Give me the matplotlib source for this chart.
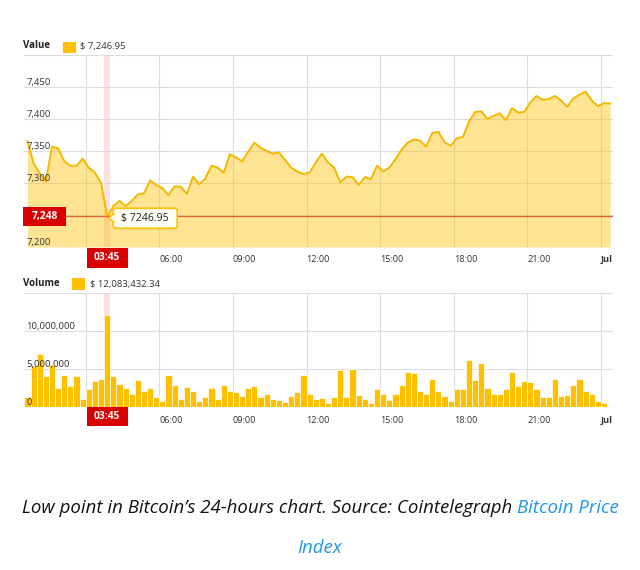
import matplotlib
matplotlib.use("Agg")
import matplotlib.pyplot as plt
import numpy as np
from matplotlib.patches import Rectangle, FancyBboxPatch, Polygon

# ---------------- data ----------------
start_hour = 0.5          # first 15-minute interval starts 00:30
step_hours = 0.25         # 15 minutes
low_index = 13            # 03:45 interval

price = [7365, 7331, 7315, 7302, 7357, 7354, 7334, 7327, 7327, 7338, 7324, 7316,
         7300, 7246.95, 7264, 7272, 7264, 7272, 7282, 7284, 7304, 7297, 7292, 7281,
         7295, 7294, 7283, 7310, 7298, 7307, 7327, 7324, 7316, 7345, 7340, 7334,
         7349, 7363, 7355, 7350, 7346, 7348, 7336, 7324, 7318, 7314, 7316, 7332,
         7346, 7332, 7324, 7301, 7310, 7309, 7297, 7309, 7306, 7327, 7318, 7324,
         7337, 7352, 7363, 7368, 7366, 7357, 7378, 7380, 7364, 7358, 7370, 7372,
         7396, 7411, 7412, 7400, 7405, 7409, 7398, 7417, 7410, 7411, 7426, 7436,
         7430, 7431, 7436, 7429, 7419, 7432, 7438, 7443, 7429, 7420, 7425, 7424]

volume_millions = [1.26, 5.3, 7.0, 4.0, 5.5, 2.4, 4.2, 2.7, 4.05, 1.0, 2.25, 3.4,
                   3.7, 12.083, 4.05, 3.0, 2.5, 1.6, 3.5, 2.1, 2.5, 1.26, 0.7, 4.2,
                   2.8, 0.95, 2.6, 2.1, 0.7, 1.2, 2.5, 1.0, 2.8, 2.1, 1.9, 1.4,
                   2.4, 2.7, 1.2, 1.6, 0.95, 0.8, 0.6, 1.4, 1.9, 4.2, 1.6, 0.95,
                   1.1, 0.45, 1.26, 4.8, 1.26, 5.0, 1.5, 0.95, 0.45, 2.35, 1.7, 0.8,
                   1.6, 2.9, 4.6, 4.4, 2.1, 1.6, 3.7, 2.0, 1.35, 0.7, 2.25, 2.35,
                   6.2, 3.5, 5.7, 2.4, 1.6, 1.6, 2.25, 4.55, 2.7, 3.4, 3.25, 2.25,
                   1.26, 1.26, 3.6, 1.4, 1.5, 2.8, 3.6, 2.1, 1.6, 0.7, 0.4, 0.1]

cursor_price = 7248
cursor_label = "7,248"
cursor_time_label = "03:45"
price_legend = "$ 7,246.95"
volume_legend = "$ 12,083,432.34"
tooltip_text = "$ 7246.95"

price_grid = [7200, 7250, 7300, 7350, 7400, 7450, 7500]
price_tick_labels = {7200: "7,200", 7300: "7,300", 7350: "7,350", 7400: "7,400", 7450: "7,450"}
volume_grid = [0, 5, 10, 15]
volume_tick_labels = {0: "0", 5: "5,000,000", 10: "10,000,000"}
hour_ticks = [3, 6, 9, 12, 15, 18, 21, 24]
# the 03:00 label is covered by the cursor box in the original
hour_labels = ["", "06:00", "09:00", "12:00", "15:00", "18:00", "21:00", "Jul"]

caption_black = "Low point in Bitcoin\u2019s 24-hours chart. Source: Cointelegraph"
caption_blue_1 = "Bitcoin Price"
caption_blue_2 = "Index"

# ---------------- style ----------------
FONT = ["Open Sans", "DejaVu Sans"]
plt.rcParams["font.family"] = FONT
GOLD = "#FFC000"
LINE = "#F5B800"
GRID = "#DCDCE4"
RED = "#D80000"
TXT = "#333333"
BLUE = "#1E96E6"

W, H = 640, 570
fig = plt.figure(figsize=(W / 100, H / 100), dpi=100)
fig.patch.set_facecolor("white")


def fx(x):
    return x / W


def fy(y):
    return 1 - y / H


x0_px, x1_px = 24.4, 613.2
ax1 = fig.add_axes([fx(x0_px), fy(247), (x1_px - x0_px) / W, 192 / H])
ax2 = fig.add_axes([fx(x0_px), fy(406.5), (x1_px - x0_px) / W, 113.5 / H])

n = len(price)
t_price = start_hour + step_hours * (np.arange(n) + 0.5)
t_bar = start_hour + step_hours * np.arange(len(volume_millions))
xmin, xmax = start_hour, start_hour + step_hours * len(volume_millions)

for ax in (ax1, ax2):
    ax.set_xlim(xmin, xmax)
    for s in ax.spines.values():
        s.set_visible(False)
    ax.set_xticks(hour_ticks)
    ax.set_xticklabels(hour_labels)
    ax.tick_params(axis="x", length=0, labelsize=6.6, labelcolor=TXT)
    ax.tick_params(axis="y", length=0, labelleft=False)
    for lab in ax.get_xticklabels():
        lab.set_ha("left")
        if lab.get_text() == "Jul":
            lab.set_fontweight("bold")
    ax.grid(True, color=GRID, lw=0.8)
    ax.set_axisbelow(True)
    ax.axvspan(start_hour + step_hours * low_index, start_hour + step_hours * (low_index + 1),
               color="#F7C9C9", alpha=0.55, lw=0, zorder=1)

ax1.tick_params(axis="x", pad=6.0)
ax2.tick_params(axis="x", pad=6.5)

# price panel
ax1.set_ylim(price_grid[0], price_grid[-1])
ax1.set_yticks(price_grid)
ax1.fill_between(t_price, price, price_grid[0], color=GOLD, alpha=0.42, lw=0, zorder=2)
ax1.plot(t_price, price, color=LINE, lw=1.4, zorder=3, solid_joinstyle="round")
ax1.axhline(cursor_price, color="#E8603C", lw=0.9, zorder=4)
for v, lab in price_tick_labels.items():
    ax1.annotate(lab, xy=(0, v), xycoords=("axes fraction", "data"), xytext=(1.2, 1.3),
                 textcoords="offset points", ha="left", va="baseline", fontsize=6.8,
                 color=TXT, zorder=5)

# volume panel
ax2.set_ylim(volume_grid[0], volume_grid[-1])
ax2.set_yticks(volume_grid)
ax2.bar(t_bar, volume_millions, width=step_hours, align="edge", color=GOLD,
        edgecolor="white", lw=0.5, zorder=3)
for v, lab in volume_tick_labels.items():
    ax2.annotate(lab, xy=(0, v), xycoords=("axes fraction", "data"), xytext=(1.2, 1.3),
                 textcoords="offset points", ha="left", va="baseline", fontsize=6.8,
                 color=TXT, zorder=5)

# headers / legends
fig.text(fx(23), fy(46), "Value", fontsize=7, fontweight="bold", color="#222", va="center")
fig.add_artist(Rectangle((fx(63), fy(52.5)), 13 / W, 11 / H, transform=fig.transFigure,
                         color=GOLD, lw=0))
fig.text(fx(80.5), fy(46), price_legend, fontsize=6.8, color=TXT, va="center")

fig.text(fx(23), fy(284), "Volume", fontsize=7, fontweight="bold", color="#222", va="center")
fig.add_artist(Rectangle((fx(72), fy(290)), 13 / W, 12 / H, transform=fig.transFigure,
                         color=GOLD, lw=0))
fig.text(fx(90), fy(284), volume_legend, fontsize=6.8, color=TXT, va="center")


# cursor boxes (positions derived from data through the axes transforms)
def data_to_px(ax, x, y):
    dx, dy = ax.transData.transform((x, y))
    return dx, H - dy


t_low = t_price[low_index]
cx, cy = data_to_px(ax1, t_low, cursor_price)

# y-axis cursor box
fig.add_artist(Rectangle((fx(23), fy(cy + 9.5)), 43 / W, 19 / H, transform=fig.transFigure,
                         color=RED, lw=0, zorder=10))
fig.text(fx(44.5), fy(cy), cursor_label, fontsize=7.4, fontweight="bold", color="white",
         ha="center", va="center", zorder=11)

# x-axis cursor boxes
for top_px in (248, 406.5):
    fig.add_artist(Rectangle((fx(cx - 20.5), fy(top_px + 19.5)), 41 / W, 19.5 / H,
                             transform=fig.transFigure, color=RED, lw=0, zorder=10))
    fig.text(fx(cx), fy(top_px + 9.8), cursor_time_label, fontsize=7.4, fontweight="bold",
             color="white", ha="center", va="center", zorder=11)

# tooltip
_, py = data_to_px(ax1, t_low, price[low_index])
bx0, bx1, by0, by1 = cx + 6, cx + 70, cy - 8, cy + 12
fig.add_artist(FancyBboxPatch((fx(bx0), fy(by1)), (bx1 - bx0) / W, (by1 - by0) / H,
                              boxstyle="round,pad=0,rounding_size=0.004",
                              transform=fig.transFigure, facecolor="#FFFEF6",
                              edgecolor=GOLD, lw=1.2, zorder=12))
fig.add_artist(Polygon([(fx(bx0 + 0.8), fy(py - 3)), (fx(cx + 1.5), fy(py + 1)),
                        (fx(bx0 + 0.8), fy(py + 5))], closed=True, transform=fig.transFigure,
                       facecolor="#FFFEF6", edgecolor=GOLD, lw=1.0, zorder=12))
fig.add_artist(Rectangle((fx(bx0 + 0.2), fy(py + 4.2)), 1.6 / W, 6.5 / H,
                         transform=fig.transFigure, facecolor="#FFFEF6", lw=0, zorder=13))
fig.text(fx((bx0 + bx1) / 2), fy((by0 + by1) / 2), tooltip_text, fontsize=7.6,
         color="#222", ha="center", va="center", zorder=14)

# caption
cap_kw = dict(fontsize=13.4, style="italic", va="center")
t1 = fig.text(0, fy(508), caption_black, color="#111111", **cap_kw)
t2 = fig.text(0, fy(508), caption_blue_1, color=BLUE, **cap_kw)
ta = fig.text(0, 0, "a a", **cap_kw)
tb = fig.text(0, 0, "aa", **cap_kw)
fig.canvas.draw()
r = fig.canvas.get_renderer()
w1 = t1.get_window_extent(r).width
w2 = t2.get_window_extent(r).width
gap = ta.get_window_extent(r).width - tb.get_window_extent(r).width
ta.remove()
tb.remove()
total = w1 + gap + w2
s = W / 2 - total / 2
t1.set_x(fx(s))
t2.set_x(fx(s + w1 + gap))
fig.text(0.5, fy(548), caption_blue_2, color=BLUE, ha="center", **cap_kw)

fig.savefig("out.png", dpi=100)
